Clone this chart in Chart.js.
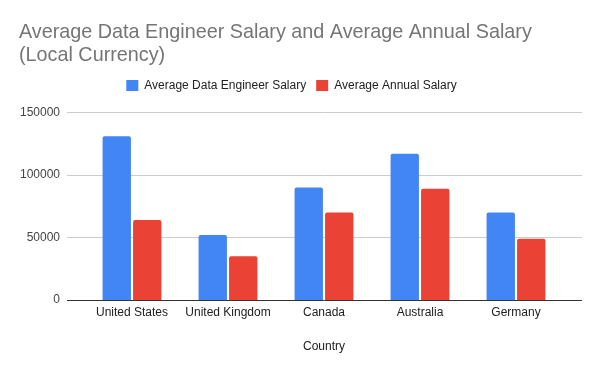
<!DOCTYPE html>
<html>
<head>
<meta charset="utf-8">
<script src="https://cdn.jsdelivr.net/npm/chart.js@4"></script>
<style>
  html, body { margin: 0; padding: 0; background: #ffffff; }
  #wrap { width: 600px; height: 371px; position: relative; }
</style>
</head>
<body>
<div id="wrap"><canvas id="c"></canvas></div>
<script>
const countries = ["United States", "United Kingdom", "Canada", "Australia", "Germany"];
const dataEngineerSalary = [131000, 52000, 90000, 117000, 70000];
const annualSalary = [64000, 35000, 70000, 89000, 49000];
const seriesNames = ["Average Data Engineer Salary", "Average Annual Salary"];
const yTicks = [0, 50000, 100000, 150000];
const titleLines = ["Average Data Engineer Salary and Average Annual Salary", "(Local Currency)"];
const xTitle = "Country";

const FONT = "'Liberation Sans', Arial, sans-serif";

const legendMargin = {
  id: 'legendMargin',
  beforeInit(chart) {
    const orig = chart.legend.fit;
    chart.legend.fit = function () {
      orig.bind(chart.legend)();
      this.height += 11;
    };
  }
};

const wideGrid = {
  id: 'wideGrid',
  beforeDatasetsDraw(chart) {
    const ctx = chart.ctx;
    const y = chart.scales.y;
    const ca = chart.chartArea;
    const left = ca.left - 17, right = ca.right + 18;
    ctx.save();
    y.ticks.forEach(t => {
      if (t.value === 0) return;
      const py = Math.round(y.getPixelForValue(t.value)) + 0.5;
      ctx.strokeStyle = '#cccccc';
      ctx.lineWidth = 1;
      ctx.beginPath();
      ctx.moveTo(left, py);
      ctx.lineTo(right, py);
      ctx.stroke();
    });
    ctx.restore();
  },
  afterDatasetsDraw(chart) {
    const ctx = chart.ctx;
    const y = chart.scales.y;
    const ca = chart.chartArea;
    const left = ca.left - 17, right = ca.right + 18;
    const py = Math.round(y.getPixelForValue(0)) + 0.5;
    ctx.save();
    ctx.strokeStyle = '#333333';
    ctx.lineWidth = 1;
    ctx.beginPath();
    ctx.moveTo(left, py);
    ctx.lineTo(right, py);
    ctx.stroke();
    ctx.restore();
  }
};

new Chart(document.getElementById('c'), {
  type: 'bar',
  data: {
    labels: countries,
    datasets: [
      { label: seriesNames[0], data: dataEngineerSalary, backgroundColor: '#4285F4' },
      { label: seriesNames[1], data: annualSalary, backgroundColor: '#EA4335' }
    ]
  },
  options: {
    responsive: true,
    maintainAspectRatio: false,
    animation: false,
    devicePixelRatio: 1,
    datasets: {
      bar: {
        categoryPercentage: 0.635,
        barPercentage: 0.93,
        borderRadius: { topLeft: 2, topRight: 2, bottomLeft: 0, bottomRight: 0 },
        borderSkipped: 'bottom'
      }
    },
    layout: { padding: { top: 8, left: 19, right: 36, bottom: 17.2 } },
    plugins: {
      title: {
        display: true,
        text: titleLines,
        align: 'start',
        color: '#757575',
        font: { family: FONT, size: 19.8, weight: 'normal', lineHeight: 1.16 },
        padding: { top: 13.5, bottom: 2 }
      },
      legend: {
        display: true,
        position: 'top',
        align: 'center',
        labels: {
          boxWidth: 12,
          boxHeight: 11,
          padding: 10,
          color: '#222222',
          font: { family: FONT, size: 12 }
        }
      },
      tooltip: { enabled: false }
    },
    scales: {
      x: {
        offset: true,
        afterFit(scale) { scale.paddingLeft = 0; scale.paddingRight = 0; },
        grid: { display: false, drawTicks: false },
        border: { display: false },
        ticks: { color: '#222222', font: { family: FONT, size: 12 }, padding: 5, maxRotation: 0, autoSkip: false },
        title: { display: true, text: xTitle, color: '#222222', font: { family: FONT, size: 12 }, padding: { top: 15, bottom: 0 } }
      },
      y: {
        min: 0,
        max: 150000,
        afterBuildTicks(scale) { scale.ticks = yTicks.map(v => ({ value: v })); },
        afterFit(scale) { scale.width = 65; },
        grid: { display: false, drawTicks: false },
        border: { display: false },
        ticks: { color: '#444444', font: { family: FONT, size: 12 }, padding: 24, callback: v => String(v) }
      }
    }
  },
  plugins: [legendMargin, wideGrid]
});
</script>
</body>
</html>
